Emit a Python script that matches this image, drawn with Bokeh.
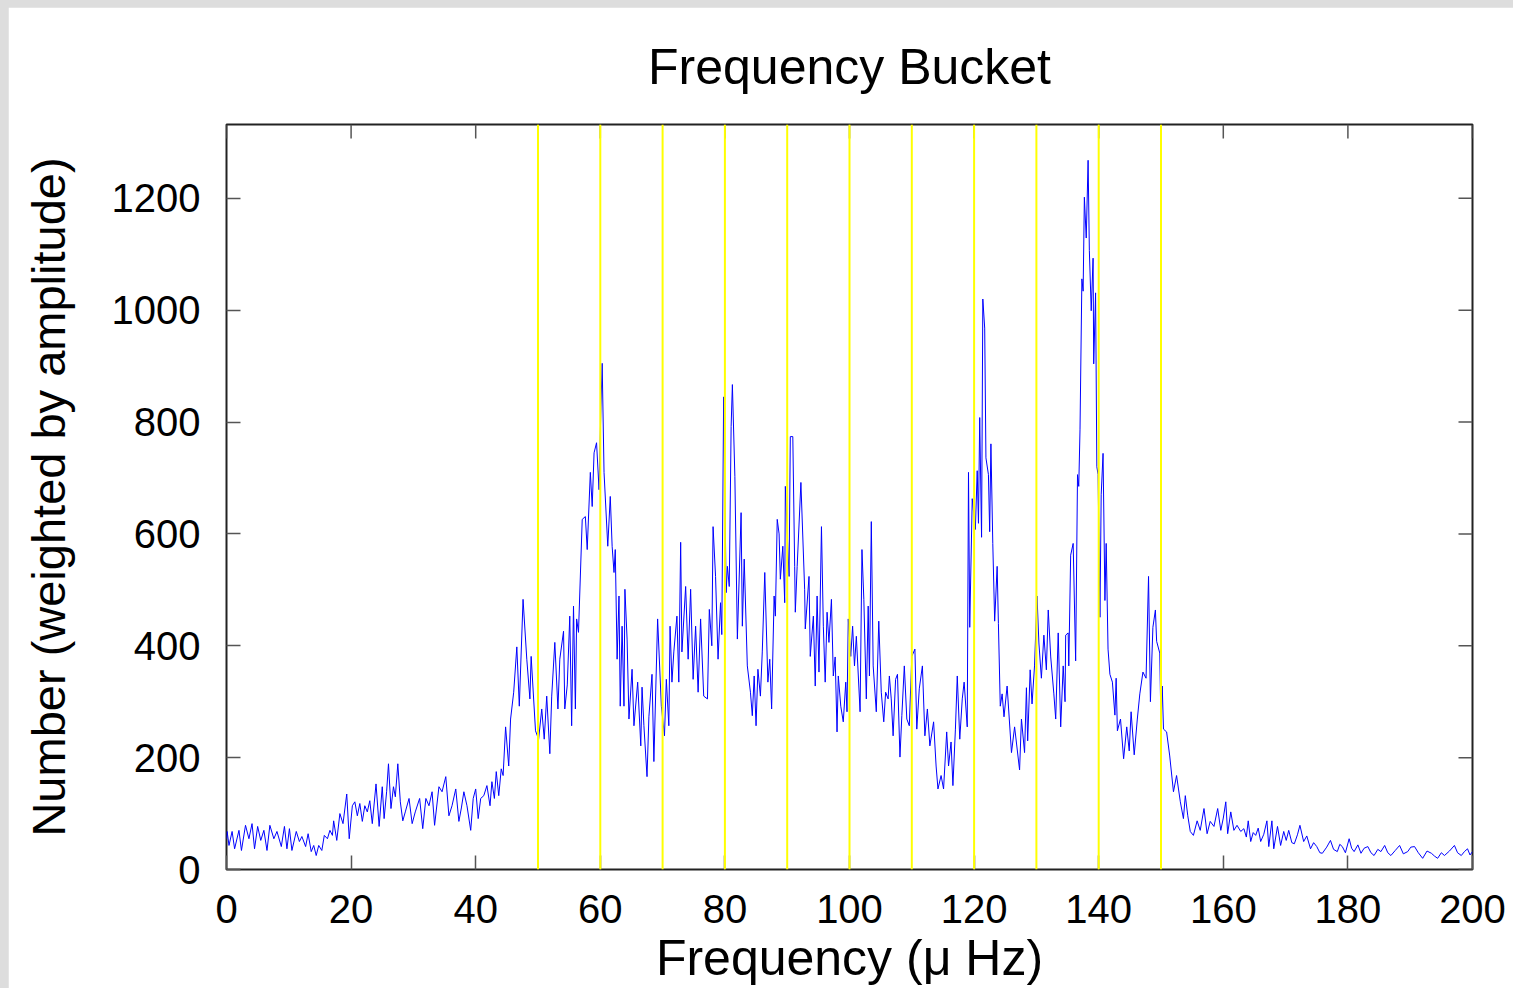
from bokeh.plotting import figure
from bokeh.models import Span, FixedTicker, Range1d
from bokeh.embed import file_html
from bokeh.resources import INLINE
from bokeh.core.properties import value

# ---- data ----
freq = [0.0, 0.1, 0.4, 0.9, 1.3, 2.0, 2.4, 3.05, 3.6, 4.1, 4.5, 5.0, 5.5, 6.0, 6.5, 6.96, 7.6, 8.1, 8.8, 9.3, 9.7,
        10.1, 10.5, 11.2, 11.7, 12.1, 12.7, 13.1, 13.6, 14.0, 14.4, 14.8, 15.3, 15.7, 16.2, 16.6, 17.0, 17.2, 17.7,
        18.2, 18.7, 19.3, 19.7, 20.2, 20.6, 21.0, 21.4, 21.8, 22.2, 22.6, 23.0, 23.4, 24.0, 24.5, 25.0, 25.3, 25.7,
        26.0, 26.4, 26.8, 27.1, 27.5, 27.9, 28.3, 28.7, 29.3, 29.8, 30.3, 31.0, 31.5, 32.0, 32.5,
        33.0, 33.4, 34.1, 34.6, 35.2, 35.7, 36.2, 36.8, 37.3, 37.7, 38.1, 38.6, 39.2, 39.6, 40.0, 40.4, 40.8, 41.3,
        41.8, 42.3, 42.6, 43.0, 43.3, 43.7, 44.1, 44.4, 44.8, 45.3, 45.6, 46.1, 46.6, 47.0, 47.6, 48.2, 48.7, 48.9,
        49.6, 50.1, 50.6, 51.0, 51.4, 51.9, 52.2, 52.7, 53.2, 53.5, 54.1, 54.3, 54.7, 55.1, 55.4, 55.7, 56.0, 56.2,
        56.5, 57.1, 57.6, 57.9, 58.4, 58.7, 59.0, 59.4, 59.8, 60.1, 60.3, 60.6, 61.2, 61.6, 61.9, 62.2, 62.4, 62.7,
        63.0, 63.2, 63.5, 63.8, 63.95, 64.3, 64.6, 65.1, 65.4, 66.0, 66.5, 66.7, 67.0, 67.5, 67.8, 68.3, 68.6, 69.2,
        69.8, 70.3, 70.6, 71.0, 71.2, 71.5, 71.8, 72.3, 72.6, 72.9, 73.1, 73.7, 74.1, 74.5, 74.9, 75.3, 75.7, 76.1,
        76.6, 77.2, 77.5, 77.9, 78.1, 78.5, 78.9, 79.3, 79.5, 79.8, 80.2, 80.4, 80.7, 81.0, 81.2, 81.6, 82.0, 82.6,
        82.8, 83.1, 83.6, 84.1, 84.4, 84.7, 85.0, 85.3, 85.7, 86.0, 86.4, 86.9, 87.2, 87.5, 87.9, 88.1, 88.4, 88.7,
        88.9, 89.3, 89.6, 89.7, 90.3, 90.5, 90.9, 91.2, 91.3, 91.6, 92.2, 92.8, 92.9, 93.5, 93.7, 94.2, 94.5, 94.8,
        95.1, 95.5, 95.8, 96.1, 96.4, 96.7, 97.1, 97.4, 97.7, 98.0, 98.2, 98.6, 99.0, 99.4, 99.6, 99.8, 100.2, 100.5,
        100.8, 101.1, 101.7, 102.0, 102.3, 102.7, 103.0, 103.2, 103.5, 103.8, 104.3, 104.7, 105.1, 105.5, 105.8,
        106.2, 106.4, 106.7, 107.0, 107.4, 107.7, 108.1, 108.4, 108.8, 109.2, 109.6, 110.0, 110.5, 110.8, 111.2,
        111.7, 112.1, 112.5, 112.9, 113.5, 113.9, 114.2, 114.7, 115.1, 115.6, 115.9, 116.3, 116.6, 117.0, 117.3,
        117.7, 118.1, 118.4, 118.9, 119.1, 119.3, 119.7, 120.2, 120.5, 120.7, 120.9, 121.2, 121.4, 121.7, 121.9,
        122.3, 122.5, 122.7, 123.0, 123.3, 123.7, 123.9, 124.2, 124.5, 124.8, 125.3, 126.0, 126.5, 127.3, 127.6,
        128.1, 128.4, 128.6, 129.0, 129.3, 129.7, 130.1, 130.4, 130.8, 131.2, 131.6, 131.9, 132.3, 132.8, 133.1,
        133.5, 133.9, 134.3, 134.6, 134.7, 135.1, 135.2, 135.5, 135.9, 136.3, 136.6, 136.8, 137.0, 137.3, 137.5,
        137.7, 138.0, 138.3, 138.5, 138.8, 139.1, 139.2, 139.5, 139.7, 139.9, 140.2, 140.4, 140.7, 141.0, 141.2,
        141.5, 141.8, 142.2, 142.6, 142.8, 143.0, 143.5, 144.0, 144.5, 144.9, 145.2, 145.7, 146.2, 146.6, 147.1,
        147.6, 148.0, 148.3, 148.7, 149.1, 149.3, 149.8, 150.0, 150.2, 150.4, 150.9, 151.4, 152.0, 152.5, 153.1,
        153.6, 153.9, 154.3, 154.7, 155.2, 155.8, 156.3, 156.9, 157.4, 157.9, 158.5, 159.1, 159.6, 160.0, 160.4,
        160.7, 161.2, 161.7, 162.2, 162.8, 163.3, 163.7, 164.0, 164.4, 164.8, 165.2, 165.6, 166.0, 166.5, 167.0,
        167.3, 167.8, 168.1, 168.7, 169.2, 169.7, 170.1, 170.5, 171.0, 171.4, 171.9, 172.3, 172.9, 173.4, 174.0,
        174.5, 175.0, 175.5, 175.9, 176.6, 177.2, 177.7, 178.3, 178.7, 179.1, 179.6, 180.2, 180.6, 181.0, 181.6,
        182.1, 182.6, 183.2, 183.7, 184.2, 184.8, 185.3, 185.9, 186.4, 186.9, 187.6, 188.3, 188.9, 189.6, 190.1,
        190.7, 191.3, 192.0, 192.7, 193.4, 193.9, 194.4, 195.0, 195.5, 196.3, 197.1, 197.6, 198.2, 198.7, 199.2,
        199.6, 200.0]
count = [55, 68, 43, 68, 37, 70, 34, 79, 55, 82, 37, 77, 52, 70, 34, 79, 55, 68, 41, 77, 37,
         73, 34, 68, 50, 59, 41, 64, 32, 43, 25, 43, 34, 61, 55, 70, 61, 87, 52,
         100, 82, 135, 55, 114, 121, 96, 118, 86, 114, 103, 123, 82, 153, 77, 148, 91, 139,
         189, 109, 148, 130, 189, 121, 87, 103, 127, 82, 103, 127, 73, 127, 114,
         139, 79, 148, 139, 166, 96, 114, 144, 86, 110, 139, 114, 70, 127, 144, 91, 127, 132,
         150, 114, 157, 127, 175, 132, 180, 168, 255, 185, 269, 317, 398, 292, 483, 376, 305, 381,
         248, 233, 287, 233, 310, 207, 310, 406, 287, 376, 426, 287, 330, 453, 257, 471, 287, 448,
         424, 626, 631, 572, 710, 649, 745, 763, 679, 827, 905, 710, 578, 667, 578, 531, 572, 376,
         489, 292, 435, 292, 501, 412, 269, 358, 257, 335, 221, 326, 257, 166, 273, 349, 193, 448,
         292, 239, 340, 257, 435, 335, 389, 453, 335, 585, 389, 506, 376, 501, 340, 435, 317, 448,
         310, 305, 465, 400, 613, 524, 376, 477, 420, 845, 495, 542, 506, 792, 867, 703, 412, 638,
         435, 555, 364, 317, 275, 346, 257, 358, 310, 389, 531, 335, 376, 287, 489, 453, 626, 600,
         519, 578, 477, 685, 524, 774, 774, 542, 460, 542, 692, 501, 430, 524, 381, 453, 328, 489,
         353, 613, 435, 335, 460, 406, 483, 346, 380, 246, 346, 292, 264, 335, 282, 448, 381, 435,
         364, 417, 282, 572, 483, 305, 471, 346, 622, 364, 282, 444, 317, 264, 317,
         305, 346, 305, 239, 340, 349, 201, 275, 364, 269, 257, 381, 394, 251, 323,
         364, 239, 287, 221, 264, 185, 144, 168, 144, 246, 185, 228, 150, 251, 346,
         233, 305, 335, 255, 710, 433, 663, 608, 713, 619, 808, 594, 1020, 968, 736,
         706, 604, 761, 583, 444, 542, 440, 292, 314, 273, 328, 209, 255, 178, 269,
         209, 325, 230, 357, 296, 364, 489, 405, 342, 419, 357, 464, 380, 314, 269,
         423, 255, 364, 300, 419, 423, 364, 562, 583, 373, 706, 685, 786, 1056, 1034,
         1202, 1129, 1268, 1107, 999, 1093, 904, 1031, 720, 706, 451, 670, 744, 481, 583,
         394, 349, 335, 276, 342, 248, 269, 198, 255, 212, 282, 205, 269, 314, 353,
         342, 524, 300, 433, 464, 408, 387, 255, 328, 251, 246, 203, 139, 168, 121,
         91, 132, 96, 68, 61, 87, 70, 109, 64, 86, 77, 109, 70, 92, 121,
         64, 103, 70, 79, 68, 73, 58, 87, 50, 66, 61, 74, 50, 63, 87,
         41, 87, 37, 77, 43, 68, 52, 70, 48, 46, 62, 79, 50, 60, 37,
         48, 41, 30, 29, 40, 52, 36, 32, 45, 41, 30, 55, 38, 32, 44,
         29, 38, 41, 30, 25, 36, 32, 43, 30, 25, 34, 43, 28, 32, 40,
         41, 30, 20, 33, 29, 24, 20, 30, 25, 33, 43, 30, 25, 32, 37,
         26, 32]

bucket_edges = [50, 60, 70, 80, 90, 100, 110, 120, 130, 140, 150]
x_ticks = [0, 20, 40, 60, 80, 100, 120, 140, 160, 180, 200]
y_ticks = [0, 200, 400, 600, 800, 1000, 1200]

X_MIN, X_MAX = 0, 200
Y_MIN, Y_MAX = 0, 1332
FONT = "Liberation Sans"
TICK_PX = 14

W, H = 1505, 981
LEFT, RIGHT, TOP, BOTTOM = 218, 41, 117, 117

p = figure(width=W, height=H, output_backend="svg", toolbar_location=None,
           x_range=Range1d(X_MIN, X_MAX), y_range=Range1d(Y_MIN, Y_MAX),
           min_border_left=LEFT, min_border_right=RIGHT, min_border_top=TOP, min_border_bottom=BOTTOM,
           background_fill_color="white", border_fill_color="white")
p.margin = (7, 0, 0, 8)
p.grid.visible = False
p.outline_line_color = "#222222"
p.outline_line_width = 2

p.title.text = "Frequency Bucket"
p.title.align = "center"
p.title.text_font = FONT
p.title.text_font_size = "50px"
p.title.text_font_style = "normal"
p.title.text_color = "black"
p.title.standoff = 59

for ax in (p.xaxis[0], p.yaxis[0]):
    ax.axis_line_color = None
    ax.major_tick_in = TICK_PX
    ax.major_tick_out = 0
    ax.major_tick_line_color = "#555555"
    ax.major_tick_line_width = 1.5
    ax.minor_tick_line_color = None
    ax.major_label_text_font = FONT
    ax.major_label_text_font_size = "40px"
    ax.major_label_text_color = "black"
    ax.axis_label_text_font = FONT
    ax.axis_label_text_font_style = "normal"
    ax.axis_label_text_color = "black"

p.xaxis[0].ticker = FixedTicker(ticks=x_ticks)
p.yaxis[0].ticker = FixedTicker(ticks=y_ticks)
p.xaxis[0].axis_label = "Frequency (\u03bc Hz)"
p.yaxis[0].axis_label = "Number (weighted by amplitude)"
p.xaxis[0].axis_label_text_font_size = "50px"
p.yaxis[0].axis_label_text_font_size = "47px"
p.xaxis[0].major_label_standoff = 25
p.yaxis[0].major_label_standoff = 26
p.xaxis[0].axis_label_standoff = 4
p.yaxis[0].axis_label_standoff = 34

# mirrored inward ticks on the top and right edges of the frame
frame_w = W - LEFT - RIGHT
frame_h = H - TOP - BOTTOM
tick_dy = TICK_PX * (Y_MAX - Y_MIN) / frame_h
tick_dx = TICK_PX * (X_MAX - X_MIN) / frame_w
p.segment(x0=x_ticks, x1=x_ticks, y0=[Y_MAX - tick_dy] * len(x_ticks), y1=[Y_MAX] * len(x_ticks),
          line_color="#555555", line_width=1.5)
p.segment(x0=[X_MAX - tick_dx] * len(y_ticks), x1=[X_MAX] * len(y_ticks), y0=y_ticks, y1=y_ticks,
          line_color="#555555", line_width=1.5)

p.line(freq, count, line_color="#0000ff", line_width=1)

for edge in bucket_edges:
    p.add_layout(Span(location=edge, dimension="height", line_color="#ffff00", line_width=2))

html = file_html(p, INLINE, title="Frequency Bucket")
html = html.replace("<head>", "<head><style>html,body{margin:0;padding:0;background:#dddddd;overflow:hidden;}</style>", 1)
open("out.html", "w").write(html)
